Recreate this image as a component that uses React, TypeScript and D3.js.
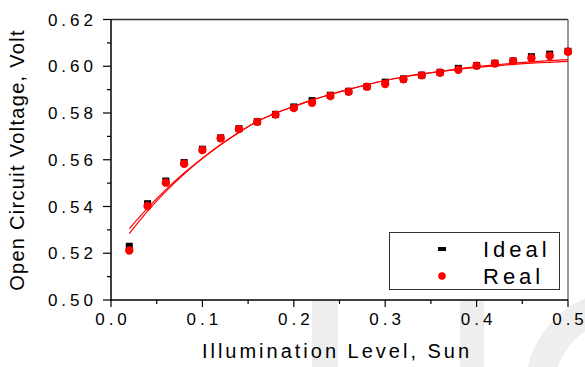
import React, { useEffect, useRef } from "react";
import * as d3 from "d3";

const width = 585;
const height = 367;

// illumination levels (sun)
const levels = [0.02, 0.04, 0.06, 0.08, 0.10, 0.12, 0.14, 0.16, 0.18, 0.20, 0.22, 0.24, 0.26,
    0.28, 0.30, 0.32, 0.34, 0.36, 0.38, 0.40, 0.42, 0.44, 0.46, 0.48, 0.50];

const idealVoc = [0.5230, 0.5412, 0.5509, 0.5588, 0.5645, 0.5694, 0.5733, 0.5763, 0.5794, 0.5826,
    0.5853, 0.5876, 0.5893, 0.5913, 0.5932, 0.5946, 0.5962, 0.5974, 0.5991, 0.6003, 0.6013,
    0.6023, 0.6041, 0.6052, 0.6064];

const realVoc = [0.5212, 0.5402, 0.5502, 0.5583, 0.5642, 0.5692, 0.5731, 0.5762, 0.5793, 0.5821,
    0.5844, 0.5873, 0.5891, 0.5912, 0.5924, 0.5944, 0.5961, 0.5972, 0.5985, 0.6002, 0.6012,
    0.6022, 0.6034, 0.6044, 0.6062];

// fitted curves
const fitIdeal = [0.5305, 0.5393, 0.5472, 0.5543, 0.5607, 0.5665, 0.5718, 0.5764, 0.5799, 0.5828,
    0.5855, 0.5879, 0.5901, 0.5921, 0.5939, 0.5954, 0.5967, 0.5978, 0.5989, 0.5998, 0.6006,
    0.6013, 0.6019, 0.6024, 0.6028];

const fitReal = [0.5284, 0.5380, 0.5465, 0.5539, 0.5605, 0.5664, 0.5717, 0.5764, 0.5799, 0.5828,
    0.5855, 0.5879, 0.5901, 0.5921, 0.5939, 0.5954, 0.5967, 0.5977, 0.5987, 0.5995, 0.6002,
    0.6008, 0.6013, 0.6017, 0.6021];

const xTicks = [0, 0.1, 0.2, 0.3, 0.4, 0.5];
const yTicks = [0.50, 0.52, 0.54, 0.56, 0.58, 0.60, 0.62];

const legendItems = ["Ideal", "Real"];

const font = "'Liberation Sans', Arial, sans-serif";

const App = () => {
    const ref = useRef<SVGSVGElement>(null);

    useEffect(() => {
        const svg = d3.select(ref.current);
        svg.selectAll("*").remove();

        const x = d3.scaleLinear().domain([0, 0.5]).range([111, 568]);
        const y = d3.scaleLinear().domain([0.5, 0.62]).range([300, 19.5]);

        // faint watermark behind the bottom axis
        const wm = svg.append("g").attr("fill", "#eeeeee");
        wm.append("rect").attr("x", 312).attr("y", 301).attr("width", 26).attr("height", 66);
        wm.append("rect").attr("x", 460).attr("y", 301).attr("width", 24).attr("height", 66);
        const ring = d3.path();
        ring.arc(625, 390, 100, 0, Math.PI * 2);
        ring.moveTo(625 + 71, 390);
        ring.arc(625, 390, 71, 0, Math.PI * 2);
        wm.append("path").attr("d", ring.toString()).attr("fill-rule", "evenodd");

        svg.append("rect")
            .attr("x", 111).attr("y", 19.5)
            .attr("width", 457).attr("height", 280.5)
            .attr("fill", "white");

        // ticks
        const yMinor = d3.range(0.51, 0.62, 0.02);
        svg.append("g").attr("stroke", "black").attr("stroke-width", 1.2)
            .selectAll("line")
            .data(yTicks.map(v => ({ v, len: 8 })).concat(yMinor.map(v => ({ v, len: 4 }))))
            .join("line")
            .attr("x1", 111).attr("x2", d => 111 - d.len)
            .attr("y1", d => y(d.v)).attr("y2", d => y(d.v));

        const xMinor = d3.range(0.05, 0.5, 0.1);
        svg.append("g").attr("stroke", "black").attr("stroke-width", 1.2)
            .selectAll("line")
            .data(xTicks.map(v => ({ v, len: 7 })).concat(xMinor.map(v => ({ v, len: 4 }))))
            .join("line")
            .attr("x1", d => x(d.v)).attr("x2", d => x(d.v))
            .attr("y1", 300).attr("y2", d => 300 + d.len);

        svg.append("g")
            .attr("font-family", font).attr("font-size", 17).attr("letter-spacing", 4)
            .attr("text-anchor", "end")
            .selectAll("text")
            .data(yTicks)
            .join("text")
            .attr("x", 97)
            .attr("y", d => y(d))
            .attr("dy", "0.36em")
            .text(d => d.toFixed(2));

        // x labels: spacing via dx so there is no trailing gap at the right edge
        const xl = svg.append("g")
            .attr("font-family", font).attr("font-size", 17)
            .attr("text-anchor", "middle")
            .selectAll("text")
            .data(xTicks)
            .join("text")
            .attr("x", d => x(d))
            .attr("y", 325);
        xl.selectAll("tspan")
            .data(d => d.toFixed(1).split(""))
            .join("tspan")
            .attr("dx", (_, i) => i === 0 ? 0 : 4)
            .text(c => c);

        // frame
        svg.append("line").attr("x1", 111).attr("x2", 568).attr("y1", 19.5).attr("y2", 19.5)
            .attr("stroke", "#333").attr("stroke-width", 1.5);
        svg.append("line").attr("x1", 568).attr("x2", 568).attr("y1", 19.5).attr("y2", 300)
            .attr("stroke", "#777").attr("stroke-width", 1.5);
        svg.append("line").attr("x1", 111).attr("x2", 111).attr("y1", 19.5).attr("y2", 300.7)
            .attr("stroke", "black").attr("stroke-width", 1.5);
        svg.append("line").attr("x1", 110.3).attr("x2", 568).attr("y1", 300).attr("y2", 300)
            .attr("stroke", "black").attr("stroke-width", 1.5);

        // points
        svg.append("g").attr("fill", "black")
            .selectAll("rect")
            .data(levels.map((l, i) => [l, idealVoc[i]]))
            .join("rect")
            .attr("x", d => x(d[0]) - 3.5)
            .attr("y", d => y(d[1]) - 3.5)
            .attr("width", 7).attr("height", 7);

        svg.append("g").attr("fill", "#ff0000")
            .selectAll("circle")
            .data(levels.map((l, i) => [l, realVoc[i]]))
            .join("circle")
            .attr("cx", d => x(d[0]))
            .attr("cy", d => y(d[1]))
            .attr("r", 4.2);

        const line = d3.line<number>()
            .x((_, i) => x(levels[i]))
            .y(d => y(d))
            .curve(d3.curveMonotoneX);

        svg.append("g").attr("fill", "none").attr("stroke", "#ff0000").attr("stroke-width", 1.2)
            .selectAll("path")
            .data([fitIdeal, fitReal])
            .join("path")
            .attr("d", d => line(d));

        // legend
        const lg = svg.append("g");
        lg.append("rect").attr("x", 389.5).attr("y", 232.5).attr("width", 170).attr("height", 57)
            .attr("fill", "white").attr("stroke", "#333").attr("stroke-width", 1);
        lg.append("rect").attr("x", 438).attr("y", 247).attr("width", 8).attr("height", 4).attr("fill", "black");
        lg.append("circle").attr("cx", 442).attr("cy", 276).attr("r", 3.8).attr("fill", "#ff0000");
        lg.selectAll("text")
            .data(legendItems)
            .join("text")
            .attr("x", 483)
            .attr("y", (_, i) => 257 + i * 27)
            .attr("font-family", font).attr("font-size", 22).attr("letter-spacing", 4)
            .text(d => d);

        // axis titles
        svg.append("text")
            .attr("x", 337).attr("y", 358)
            .attr("text-anchor", "middle")
            .attr("font-family", font).attr("font-size", 20).attr("letter-spacing", 3)
            .text("Illumination Level, Sun");

        svg.append("text")
            .attr("transform", "translate(24,160) rotate(-90)")
            .attr("text-anchor", "middle")
            .attr("font-family", font).attr("font-size", 20).attr("letter-spacing", 1.3)
            .text("Open Circuit Voltage, Volt");
    }, []);

    return (
        <svg ref={ref} width={width} height={height}
            style={{ position: "absolute", left: 0, top: 0, background: "white" }}>
        </svg>
    );
};

export default App;
